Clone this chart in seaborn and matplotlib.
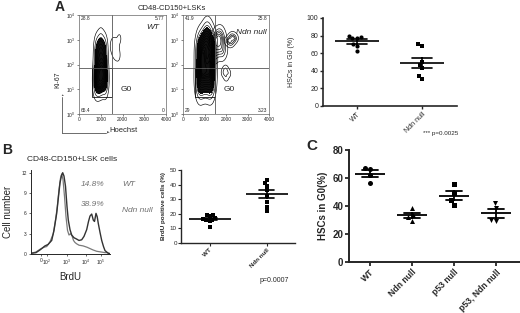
import numpy as np
import pandas as pd
import seaborn as sns
import matplotlib.pyplot as plt
from matplotlib.colors import ListedColormap
from matplotlib.patches import Rectangle

sns.set_style("ticks")
plt.rcParams["font.family"] = ["Liberation Sans", "DejaVu Sans"]
plt.rcParams["mathtext.default"] = "regular"

# ==============================
# Data
# ==============================
# A: flow cytometry clusters (Hoechst, Ki-67)
wt_core_x = [780, 1220, 1000, 820, 1180, 1000, 800, 1200, 1000, 1000, 850, 1150, 1000, 820, 1180, 1000, 900, 1100]
wt_core_y = [15, 15, 22, 30, 30, 45, 60, 60, 25, 90, 200, 200, 350, 500, 500, 800, 18, 40]
wt_lobe_x = [1600, 1850, 1700, 1800, 1550, 1650]
wt_lobe_y = [700, 1100, 400, 220, 550, 300]
ndn_core_x = [800, 1300, 1050, 780, 1320, 1050, 800, 1300, 1050, 850, 1300, 800, 1350, 1050, 780, 1350, 1050, 1150]
ndn_core_y = [12, 12, 18, 25, 25, 40, 60, 60, 100, 180, 180, 300, 300, 500, 700, 700, 1100, 1600]
ndn_side_x = [1450, 1650, 1800, 1550, 1850, 1700, 1450]
ndn_side_y = [250, 450, 900, 1200, 350, 1500, 700]
ndn_dot1_x = [2100, 2400, 2250, 2250, 2150, 2350]
ndn_dot1_y = [1000, 1000, 700, 1450, 850, 1250]
ndn_dot2_x = [1900, 2100, 2000, 2000, 1950]
ndn_dot2_y = [45, 45, 62, 32, 55]
wt_quadrants = ["28.8", "5.77", "65.4", "0"]
ndn_quadrants = ["41.9", "25.8", "29", "3.23"]

# A: HSCs in G0 (%)
a_groups = ["WT", "Ndn null"]
a_wt = [78, 77, 77.5, 80, 71, 68, 62]
a_ndn = [70, 68.5, 50.5, 47, 43, 30.5, 34]

# B: BrdU histogram (x in display channel units)
hist_ticks = [10, 16, 36, 55, 70]
hist_ticklabels = ["0", "$10^2$", "$10^3$", "$10^4$", "$10^5$"]
ndn_hist_x = [0, 5, 9, 14, 17, 20.7, 23, 25.7, 27.5, 29, 30.5, 31.7, 33, 34.5, 36, 37.3, 39, 40.7, 43, 45.7,
              48, 50.7, 53, 55.7, 57.5, 59, 60.7, 62.3, 63.5, 65, 66.2, 67.3, 69, 70.7, 72.5, 74, 77.3, 79]
ndn_hist_y = [0.1, 0.2, 0.6, 1.2, 1.4, 2.0, 3.5, 6.0, 8.5, 10.5, 11.6, 12.0, 11.5, 10.0, 7.0, 5.0, 3.6, 2.8, 2.4, 2.2,
              2.0, 2.1, 2.6, 3.6, 4.8, 5.6, 5.9, 5.0, 4.8, 6.0, 5.5, 4.5, 3.2, 2.0, 1.1, 0.5, 0.1, 0.05]
wt_hist_x = [0, 5, 9, 13, 15.7, 19, 22.3, 24.5, 26.3, 28, 29.5, 30.7, 32, 33.5, 35, 36.5, 38, 39.5, 41, 42.5,
             44, 45.7, 48, 52, 56, 59, 62, 65.7, 70, 74, 76, 79]
wt_hist_y = [0.1, 0.3, 0.7, 1.0, 1.1, 1.8, 3.0, 5.0, 7.0, 9.5, 11.2, 11.8, 11.0, 8.5, 5.5, 3.5, 2.8, 3.0, 2.7, 2.0,
             1.7, 1.5, 1.3, 1.2, 1.0, 0.8, 0.6, 0.4, 0.3, 0.2, 0.2, 0.05]

# B: BrdU positive cells (%)
b_groups = ["WT", "Ndn null"]
b_wt = [19.5, 19, 18.5, 17, 16.5, 16, 15.5, 15, 11]
b_ndn = [43, 41, 39, 36, 32, 28, 25, 22]

# C: HSCs in G0 (%)
c_groups = ["WT", "Ndn null", "p53 null", "p53, Ndn null"]
c_wt = [66.5, 67, 62.5, 56.5]
c_ndn = [38.5, 33.5, 32, 29.5]
c_p53 = [55.5, 49, 44, 41]
c_dko = [42, 38.5, 30, 29]

# ==============================
# Figure
# ==============================
W, H = 520, 313
fig = plt.figure(figsize=(W / 100, H / 100), dpi=100)
core_cmap = ListedColormap(["#111111"])


def box(l, t, r, b):
    return fig.add_axes([l / W, 1 - b / H, (r - l) / W, (b - t) / H])


def fx(x):
    return x / W


def fy(y):
    return 1 - y / H


def flow_panel(ax, clusters, quads, label, label_pos):
    for cx, cy, lv, dark in clusters:
        if dark:
            sns.kdeplot(x=cx, y=cy, log_scale=(False, True), levels=[0.25, 1], fill=True,
                        cmap=core_cmap, bw_adjust=1.1, ax=ax)
        sns.kdeplot(x=cx, y=cy, log_scale=(False, True), levels=lv, color="black",
                    linewidths=0.45, bw_adjust=1.1, ax=ax)
    ax.set_xlim(0, 4000)
    ax.set_ylim(1, 1e4)
    ax.axvline(1500, color="#555555", lw=0.6)
    ax.axhline(70, color="#555555", lw=0.6)
    ax.add_patch(Rectangle((580, 5), 920, 65, fill=False, ec="#333333", lw=0.7))
    ax.set_xticks([0, 1000, 2000, 3000, 4000])
    ax.set_yticks([1, 10, 100, 1000, 10000])
    ax.set_yticklabels(["$10^0$", "$10^1$", "$10^2$", "$10^3$", "$10^4$"])
    ax.minorticks_off()
    ax.tick_params(labelsize=3.5, length=1.5, width=0.4, pad=1)
    for s in ax.spines.values():
        s.set_linewidth(0.5)
        s.set_color("#666666")
    ax.set_xlabel("")
    ax.set_ylabel("")
    ax.text(90, 7000, quads[0], fontsize=3.5, va="center")
    ax.text(3930, 7000, quads[1], fontsize=3.5, va="center", ha="right")
    ax.text(90, 1.35, quads[2], fontsize=3.5, va="center")
    ax.text(3930, 1.35, quads[3], fontsize=3.5, va="center", ha="right")
    ax.text(label_pos[0], label_pos[1], label, fontsize=6, style="italic", ha="center", va="center")
    ax.text(2150, 10, "G0", fontsize=6, ha="center", va="center")


def dot_panel(ax, groups, values, markers, size, mean_w, cap, mew):
    df = pd.DataFrame({"group": np.repeat(groups, [len(v) for v in values]),
                       "value": np.concatenate(values)})
    for g, v, m in zip(groups, values, markers):
        sns.swarmplot(x=[g] * len(v), y=v, order=groups, marker=m, color="black",
                      size=size, linewidth=0, ax=ax)
    sns.pointplot(data=df, x="group", y="value", order=groups, errorbar="se", capsize=cap,
                  color="black", marker="_", markersize=mean_w, markeredgewidth=mew,
                  linestyle="none", err_kws={"linewidth": mew}, ax=ax)
    sns.despine(ax=ax)
    ax.set_xlabel("")


def rotate_labels(ax, bold=False):
    for lab in ax.get_xticklabels():
        lab.set_rotation(45)
        lab.set_ha("right")
        lab.set_rotation_mode("anchor")
        if bold:
            lab.set_fontweight("bold")


# ---------- Panel A ----------
fig.text(fx(60), fy(7), "A", fontsize=10, fontweight="bold", va="center", ha="center")
fig.text(fx(172), fy(8), "CD48-CD150+LSKs", fontsize=5.5, ha="center", va="center")

ax1 = box(79, 15, 166, 114)
flow_panel(ax1, [(wt_core_x, wt_core_y, 12, True), (wt_lobe_x, wt_lobe_y, [0.25], False)],
           wt_quadrants, "WT", (3400, 3000))
ax2 = box(183, 15, 269, 114)
flow_panel(ax2, [(ndn_core_x, ndn_core_y, 14, True), (ndn_side_x, ndn_side_y, 7, False),
                 (ndn_dot1_x, ndn_dot1_y, 5, False), (ndn_dot2_x, ndn_dot2_y, 3, False)],
           ndn_quadrants, "Ndn null", (3200, 2000))

fig.text(fx(58), fy(80), "Ki-67", fontsize=5, rotation=90, ha="center", va="center")
fig.text(fx(124), fy(131), "Hoechst", fontsize=5.5, ha="center", va="center")
fig.add_artist(plt.Line2D([fx(62), fx(62)], [fy(133), fy(97)], color="#555555", lw=0.6))
fig.add_artist(plt.Line2D([fx(62), fx(106)], [fy(133), fy(133)], color="#555555", lw=0.6))
fig.text(fx(62), fy(95), "\u25b2", fontsize=2.5, ha="center", va="center", color="#555555")
fig.text(fx(108), fy(133), "\u25b6", fontsize=2.5, ha="center", va="center", color="#555555")

ax3 = box(323, 18, 457, 106)
dot_panel(ax3, a_groups, [a_wt, a_ndn], ["o", "s"], 3, 31, 0.3, 1.2)
ax3.set_xlim(-0.52, 1.54)
ax3.set_ylim(0, 100)
ax3.set_yticks([0, 20, 40, 60, 80, 100])
ax3.set_ylabel("HSCs in G0 (%)", fontsize=5, labelpad=8)
ax3.tick_params(labelsize=5, length=2.5, width=1, pad=1)
rotate_labels(ax3)
for s in ax3.spines.values():
    s.set_linewidth(1.2)
fig.text(fx(441), fy(133), "*** p=0.0025", fontsize=4.5, ha="center", va="center")

# ---------- Panel B ----------
fig.text(fx(7), fy(150), "B", fontsize=10, fontweight="bold", va="center", ha="center")
fig.text(fx(72), fy(159), "CD48-CD150+LSK cells", fontsize=6, ha="center", va="center")

ax4 = box(31, 170, 110, 254)
sns.lineplot(x=wt_hist_x, y=wt_hist_y, color="#7a7a7a", lw=0.9, sort=False, ax=ax4)
sns.lineplot(x=ndn_hist_x, y=ndn_hist_y, color="#333333", lw=1.0, sort=False, ax=ax4)
ax4.set_xlim(0, 79)
ax4.set_ylim(0, 12.4)
ax4.set_yticks([0, 3, 6, 9, 12])
ax4.set_xticks(hist_ticks)
ax4.set_xticklabels(hist_ticklabels)
ax4.tick_params(labelsize=3.5, length=1.5, width=0.5, pad=1.5)
sns.despine(ax=ax4)
for s in ax4.spines.values():
    s.set_linewidth(0.7)
ax4.set_ylabel("Cell number", fontsize=7, labelpad=6)
ax4.set_xlabel("BrdU", fontsize=7, labelpad=3)
ax4.text(62, 10.3, "14.8%", fontsize=6, style="italic", color="#707070", ha="center", va="center")
ax4.text(62, 7.3, "38.9%", fontsize=6, style="italic", color="#707070", ha="center", va="center")
fig.text(fx(122), fy(184), "WT", fontsize=6, style="italic", color="#707070", va="center")
fig.text(fx(122), fy(210), "Ndn null", fontsize=6, style="italic", color="#707070", va="center")

ax5 = box(181, 170, 295, 243)
dot_panel(ax5, b_groups, [b_wt, b_ndn], ["s", "s"], 2.3, 30, 0.27, 1.2)
ax5.set_xlim(-0.5, 1.5)
ax5.set_ylim(0, 50)
ax5.set_yticks([0, 10, 20, 30, 40, 50])
ax5.set_ylabel("BrdU positive cells (%)", fontsize=4.5, fontweight="bold", labelpad=3)
ax5.tick_params(labelsize=4.5, length=2, width=0.8, pad=1)
rotate_labels(ax5, bold=True)
for s in ax5.spines.values():
    s.set_linewidth(1.0)
fig.text(fx(274), fy(281), "p=0.0007", fontsize=5, ha="center", va="center")

# ---------- Panel C ----------
fig.text(fx(312), fy(146), "C", fontsize=11, fontweight="bold", va="center", ha="center")

ax6 = box(349, 150, 520, 262)
dot_panel(ax6, c_groups, [c_wt, c_ndn, c_p53, c_dko], ["o", "^", "s", "v"], 3.6, 22, 0.4, 1.3)
ax6.set_xlim(-0.5, 3.57)
ax6.set_ylim(0, 80)
ax6.set_yticks([0, 20, 40, 60, 80])
ax6.set_ylabel("HSCs in G0(%)", fontsize=7, fontweight="bold", labelpad=3)
ax6.tick_params(axis="y", labelsize=7, length=3, width=1.3, pad=1)
ax6.tick_params(axis="x", labelsize=6.2, length=3, width=1.3, pad=1)
for lab in ax6.get_yticklabels():
    lab.set_fontweight("bold")
rotate_labels(ax6, bold=True)
for s in ax6.spines.values():
    s.set_linewidth(1.4)

fig.savefig("out.png", dpi=100)
